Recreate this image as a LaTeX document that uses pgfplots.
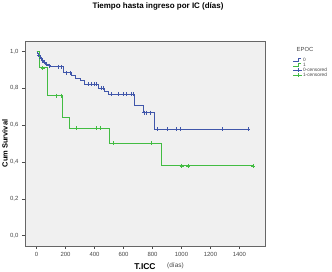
\documentclass[border=0pt]{standalone}
\usepackage{pgfplots}
\pgfplotsset{compat=1.18}
\usepackage{fontspec}
\setmainfont{Liberation Sans}
\definecolor{blueS}{RGB}{64,86,170}
\definecolor{greenS}{RGB}{66,188,66}
\definecolor{bgS}{RGB}{240,240,240}
\definecolor{txtS}{RGB}{70,70,70}
\pgfplotsset{
  steplegend/.style={legend image code/.code={\draw[##1] (0bp,-1bp)--(4.5bp,-1bp)--(4.5bp,1.5bp)--(8bp,1.5bp);}},
  censlegend/.style={legend image code/.code={\draw[##1,mark repeat=2,mark phase=2] plot coordinates {(0bp,0bp)(4.5bp,0bp)(9bp,0bp)};}},
}
\begin{document}
\begin{tikzpicture}[x=1bp,y=1bp]
\path[use as bounding box] (0,0) rectangle (332,272);
\begin{axis}[
  at={(25bp,26bp)}, anchor=south west,
  scale only axis, width=240.5bp, height=205bp,
  xmin=-80, xmax=1580, ymin=-0.056, ymax=1.056,
  axis background/.style={fill=bgS},
  axis line style={draw=black!60, line width=0.8bp},
  tick pos=left, tick align=outside,
  major tick length=3bp,
  tick style={black!70, line width=0.5bp},
  xtick={0,200,...,1400},
  ytick={0,0.2,0.4,0.6,0.8,1.0},
  ticklabel style={font=\fontsize{6}{6}\selectfont, text=txtS},
  /pgf/number format/assume math mode=true,
  yticklabel style={/pgf/number format/.cd, use comma, fixed, fixed zerofill, precision=1},
  xticklabel style={/pgf/number format/.cd, 1000 sep={}},
  legend style={at={(axis description cs:1.114,0.9195)}, anchor=north west,
    draw=none, fill=none, font=\fontsize{4.8}{4.8}\selectfont, text=txtS,
    nodes={inner sep=0.2bp, text height=3.6bp, text depth=1.0bp, anchor=west},
    row sep=0pt, inner sep=0pt},
  legend cell align=left,
  clip=false,
]
% legend entries
\addlegendimage{blueS, line width=0.7bp, steplegend}
\addlegendentry{0}
\addlegendimage{greenS, line width=0.7bp, steplegend}
\addlegendentry{1}
\addlegendimage{blueS, line width=0.7bp, mark=+, mark size=2bp, censlegend}
\addlegendentry{0-censored}
\addlegendimage{greenS, line width=0.7bp, mark=+, mark size=2bp, censlegend}
\addlegendentry{1-censored}
% EPOC = 0
\addplot[forget plot, const plot, blueS, line width=1bp] coordinates {
(0,1.0) (5,0.99) (10,0.98) (18,0.97) (25,0.96) (35,0.95) (48,0.94) (62,0.93) (80,0.922) (93,0.916)
(185,0.883) (243,0.871) (266,0.853) (300,0.84) (334,0.822) (426,0.80) (472,0.78) (495,0.766)
(679,0.708) (737,0.667) (817,0.577) (1461,0.577)};
\addplot[forget plot, only marks, mark=+, mark size=2bp, blueS, line width=0.8bp] coordinates {
(15,0.98) (30,0.96) (42,0.95) (55,0.94) (70,0.93) (88,0.922) (150,0.916) (169,0.916)
(208,0.883) (231,0.883) (360,0.822) (380,0.822) (400,0.822) (415,0.822) (450,0.80) (461,0.80)
(519,0.766) (564,0.766) (599,0.766) (622,0.766) (657,0.766) (668,0.766)
(743,0.667) (760,0.667) (783,0.667)
(833,0.577) (905,0.577) (967,0.577) (990,0.577) (1284,0.577) (1461,0.577)};
% EPOC = 1
\addplot[forget plot, const plot, greenS, line width=1bp] coordinates {
(0,1.0) (20,0.91) (72,0.76) (176,0.643) (226,0.582) (502,0.50) (863,0.378) (1495,0.378)};
\addplot[forget plot, only marks, mark=+, mark size=2bp, greenS, line width=0.8bp] coordinates {
(43,0.91) (134,0.76) (169,0.76) (277,0.582) (410,0.582) (438,0.582) (530,0.50) (794,0.50)
(1001,0.378) (1047,0.378) (1495,0.378)};
\end{axis}
\node[font=\bfseries\fontsize{8}{8}\selectfont] at (158,265.5) {Tiempo hasta ingreso por IC (días)};
\node[font=\bfseries\fontsize{7.5}{7.5}\selectfont, rotate=90] at (5,128.5) {Cum Survival};
\node[font=\bfseries\fontsize{8.5}{8.5}\selectfont] at (145,5) {T.ICC};
\node[font=\fontsize{6.5}{6.5}\selectfont, text=txtS] at (175.5,6) {(días)};
\node[font=\fontsize{5.9}{5.9}\selectfont, text=txtS] at (305,223) {EPOC};
\end{tikzpicture}
\end{document}
